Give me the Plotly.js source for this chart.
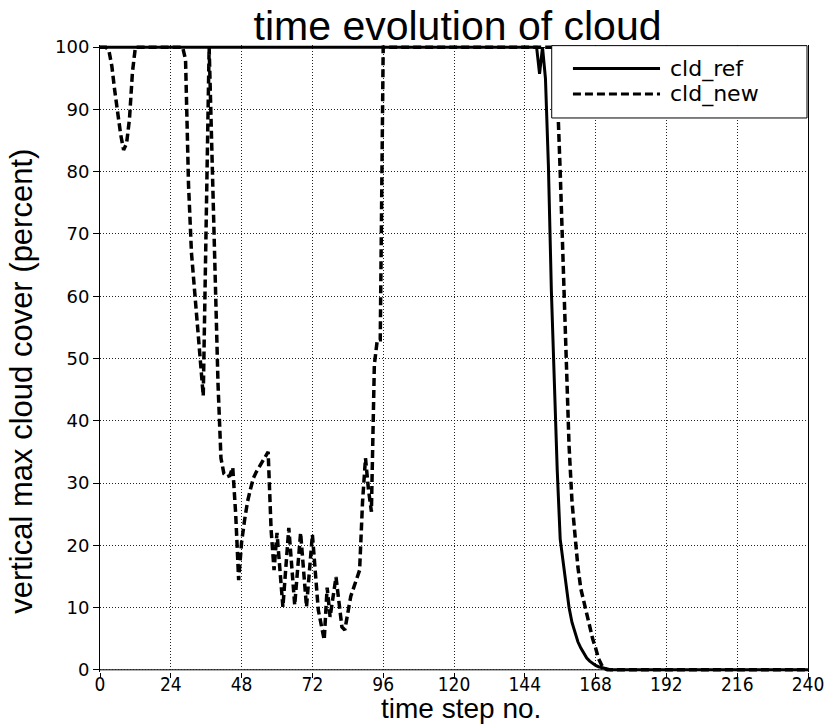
<!DOCTYPE html>
<html>
<head>
<meta charset="utf-8">
<script src="https://cdn.plot.ly/plotly-3.0.1.min.js"></script>
<style>
  html, body { margin: 0; padding: 0; background: #fff; }
  #chart { width: 831px; height: 726px; }
</style>
</head>
<body>
<div id="chart"></div>
<script>
// Reference run: vertical max cloud cover (%) per time step (polyline vertices)
const refSteps = [0, 148, 149, 150, 151, 152, 153, 154, 155, 156, 157, 158, 159, 160,
                  161, 162, 163, 164, 165, 166, 167, 168, 169, 170, 171, 172, 173, 240];
const refCover = [100, 100, 95.7, 100, 95, 81, 61, 45, 32, 21, 17, 13.5, 10, 7.6,
                  5.9, 4.5, 3.5, 2.6, 1.9, 1.4, 1.0, 0.7, 0.5, 0.35, 0.25, 0.15, 0, 0];

// New scheme run
const newSteps = [0, 2, 3, 4, 5, 6, 7, 8, 9, 10, 11, 12,
                  28, 29, 30, 31, 35, 37, 40, 41, 42, 43, 44, 45, 46, 47,
                  48, 49, 50, 51, 52, 53, 54, 55, 56, 57, 58, 59, 60,
                  62, 64, 66, 68, 70, 72, 74, 76, 77, 78, 80, 82, 83, 85, 87, 88,
                  89, 90, 91, 92, 93, 94, 95, 96,
                  154, 155, 156, 157, 158, 159, 160, 161, 162, 163, 164, 165, 166,
                  167, 168, 169, 170, 171, 172, 240];
const newCover = [100, 100, 99.5, 97, 93, 89, 86, 83.5, 84.5, 88.5, 96, 100,
                  100, 98, 78, 67, 44, 100, 46, 34, 31.5, 31, 31.2, 32.5, 25, 14.4,
                  20.5, 24, 27, 29, 30.8, 31.8, 32.6, 33.4, 34.2, 35, 22.5, 16, 22,
                  10.1, 22.8, 10.4, 22, 10.1, 21.7, 9.6, 4.8, 13.2, 8.5, 14.9, 6.9, 6.4, 11.8, 14.5, 16,
                  27, 34, 29, 25.4, 49, 53, 53, 100,
                  100, 93, 80, 64, 48, 36, 27, 21, 16.5, 13, 11, 8.5, 6.5,
                  5, 3.5, 1.8, 0.8, 0.2, 0, 0];

const xTicks = [0, 24, 48, 72, 96, 120, 144, 168, 192, 216, 240];
const yTicks = [0, 10, 20, 30, 40, 50, 60, 70, 80, 90, 100];
const seriesNames = ['cld_ref', 'cld_new'];

const traces = [
  {
    x: refSteps, y: refCover, name: seriesNames[0], type: 'scatter', mode: 'lines',
    line: { color: '#000', width: 3 }, showlegend: false, hoverinfo: 'x+y'
  },
  {
    x: newSteps, y: newCover, name: seriesNames[1], type: 'scatter', mode: 'lines',
    line: { color: '#000', width: 3.5, dash: '8px,4px' }, showlegend: false, hoverinfo: 'x+y'
  }
];

// plot area spans y = 45..672 px; legend frame and titles are placed in paper units
const legBox = { x0: 0.638, x1: 0.9986, y0: 0.8836, y1: 0.999 };
const legRows = [0.9625, 0.9218];
const legLine = { x0: 0.668, x1: 0.791 };
const legText = 0.803;

const layout = {
  width: 831,
  height: 726,
  margin: { l: 100, r: 23, t: 45, b: 54 },
  paper_bgcolor: '#fff',
  plot_bgcolor: '#fff',
  showlegend: false,
  title: {
    text: 'time evolution of cloud',
    font: { family: 'Liberation Sans, Arial, sans-serif', size: 41, color: '#000' },
    x: 0.505, xref: 'paper', xanchor: 'center',
    y: 0.965, yref: 'container', yanchor: 'middle'
  },
  xaxis: {
    range: [0, 240],
    tickvals: xTicks,
    ticktext: xTicks.map(String),
    ticks: 'outside', ticklen: 5, tickwidth: 1, tickcolor: '#000',
    ticklabelstandoff: -10,
    showline: false,
    zeroline: false,
    showgrid: true, gridcolor: '#222', gridwidth: 1, griddash: '1px,2px',
    tickfont: { family: 'DejaVu Sans Condensed, DejaVu Sans, sans-serif', size: 19, color: '#000' },
    fixedrange: true
  },
  yaxis: {
    range: [-0.35, 100.35],
    tickvals: yTicks,
    ticktext: yTicks.map(String),
    ticks: 'outside', ticklen: 6, tickwidth: 1, tickcolor: '#000',
    showline: true, linecolor: '#000', linewidth: 1, mirror: true,
    zeroline: false,
    showgrid: true, gridcolor: '#222', gridwidth: 1, griddash: '1px,2px',
    tickfont: { family: 'DejaVu Sans, sans-serif', size: 18, color: '#000' },
    fixedrange: true
  },
  shapes: [
    // x axis baseline at zero cover
    { type: 'line', xref: 'x', yref: 'y', x0: 0, x1: 240, y0: 0, y1: 0,
      line: { color: '#000', width: 1 }, layer: 'below' },
    // legend frame
    { type: 'rect', xref: 'paper', yref: 'paper',
      x0: legBox.x0, x1: legBox.x1, y0: legBox.y0, y1: legBox.y1,
      fillcolor: '#fff', line: { color: '#000', width: 1 }, layer: 'above' },
    { type: 'line', xref: 'paper', yref: 'paper',
      x0: legLine.x0, x1: legLine.x1, y0: legRows[0], y1: legRows[0],
      line: { color: '#000', width: 3 }, layer: 'above' },
    { type: 'line', xref: 'paper', yref: 'paper',
      x0: legLine.x0, x1: legLine.x1, y0: legRows[1], y1: legRows[1],
      line: { color: '#000', width: 3, dash: '8px,4px' }, layer: 'above' }
  ],
  annotations: seriesNames.map((name, i) => ({
    text: name, xref: 'paper', yref: 'paper', x: legText, y: legRows[i],
    xanchor: 'left', yanchor: 'middle', showarrow: false, borderpad: 0,
    font: { family: 'DejaVu Sans, sans-serif', size: 22, color: '#000' }
  })).concat([
    {
      text: 'time step no.', xref: 'paper', yref: 'paper', x: 0.51, y: -0.0575,
      xanchor: 'center', yanchor: 'middle', showarrow: false,
      font: { family: 'Liberation Sans, Arial, sans-serif', size: 28, color: '#000' }
    },
    {
      text: 'vertical max cloud cover (percent)', xref: 'paper', yref: 'paper',
      x: -0.11, y: 0.463, xanchor: 'center', yanchor: 'middle', textangle: -90,
      showarrow: false,
      font: { family: 'Liberation Sans, Arial, sans-serif', size: 31, color: '#000' }
    }
  ])
};

Plotly.newPlot('chart', traces, layout, { displayModeBar: false, staticPlot: true });
</script>
</body>
</html>
